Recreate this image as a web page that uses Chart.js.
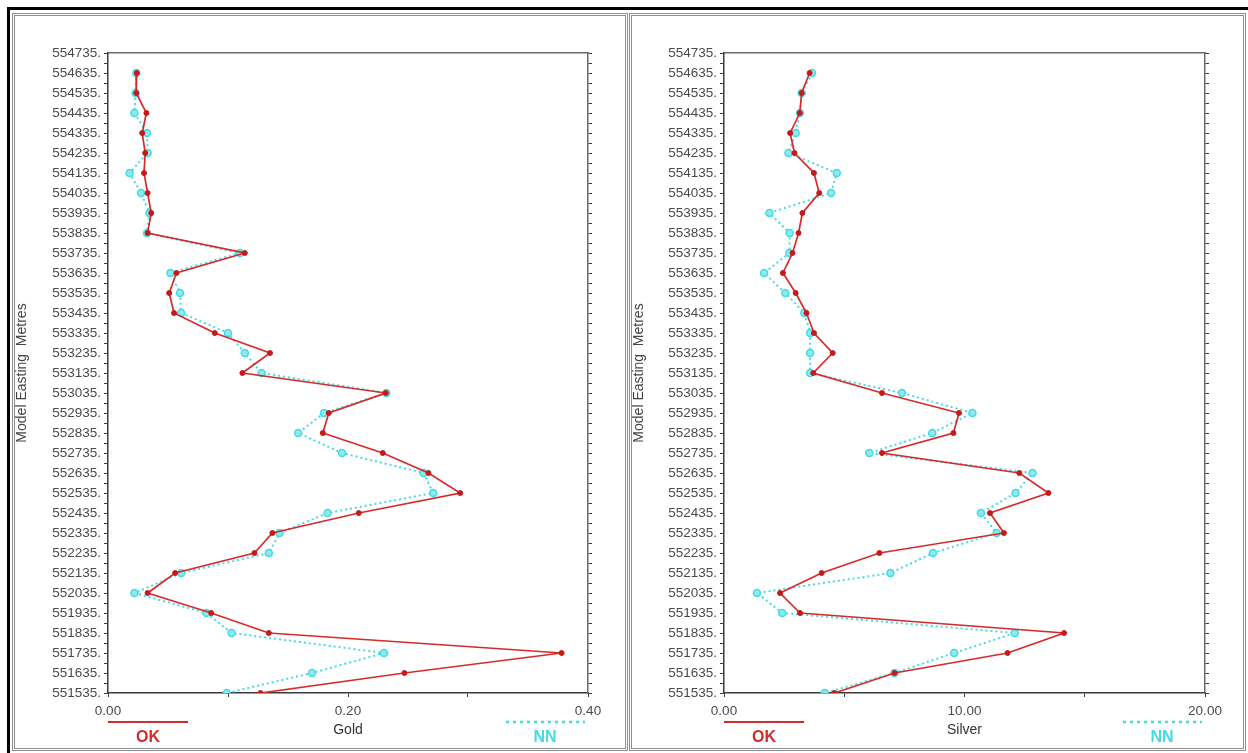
<!DOCTYPE html>
<html>
<head>
<meta charset="utf-8">
<script src="https://cdn.jsdelivr.net/npm/chart.js@4.4.1/dist/chart.umd.min.js"></script>
<style>
    body { margin: 0; width: 1248px; height: 753px; background: #fff; position: relative; overflow: hidden; font-family: "Liberation Sans", Arial, sans-serif; }
    .frame { position: absolute; left: 7px; top: 7px; right: 0; bottom: 0; border-top: 3px solid #000; border-left: 3px solid #000; }
    .panel { position: absolute; top: 13px; height: 732px; border: 3px double #8e8e8e; background: #fff; }
    #p1 { left: 12px; width: 610px; }
    #p2 { left: 629px; width: 611px; }
    .panel canvas { display: block; }
</style>
</head>
<body>
<div class="frame"></div>
<div class="panel" id="p1"><canvas id="gold" width="610" height="732"></canvas></div>
<div class="panel" id="p2"><canvas id="silver" width="611" height="732"></canvas></div>

<script>
// model easting of each block, top of the profile first
var eastings = [554635, 554535, 554435, 554335, 554235, 554135, 554035, 553935,
    553835, 553735, 553635, 553535, 553435, 553335, 553235, 553135,
    553035, 552935, 552835, 552735, 552635, 552535, 552435, 552335,
    552235, 552135, 552035, 551935, 551835, 551735, 551635, 551535];

var goldOK = [0.024, 0.0235, 0.032, 0.0285, 0.031, 0.030, 0.033, 0.036,
    0.033, 0.114, 0.057, 0.051, 0.055, 0.089, 0.135, 0.112,
    0.2315, 0.184, 0.179, 0.229, 0.267, 0.2935, 0.209, 0.137,
    0.122, 0.056, 0.033, 0.086, 0.134, 0.378, 0.247, 0.127];
var goldNN = [0.0236, 0.023, 0.022, 0.0325, 0.033, 0.018, 0.0275, 0.0345,
    0.0325, 0.110, 0.052, 0.060, 0.061, 0.100, 0.114, 0.128,
    0.232, 0.180, 0.1585, 0.195, 0.263, 0.271, 0.183, 0.143,
    0.134, 0.061, 0.022, 0.082, 0.103, 0.230, 0.170, 0.099];

var silverOK = [3.56, 3.23, 3.15, 2.75, 2.93, 3.74, 3.96, 3.26,
    3.10, 2.85, 2.45, 2.98, 3.43, 3.74, 4.52, 3.71,
    6.57, 9.77, 9.54, 6.57, 12.28, 13.49, 11.06, 11.64,
    6.46, 4.06, 2.33, 3.16, 14.14, 11.79, 7.09, 4.59];
var silverNN = [3.66, 3.23, 3.16, 2.98, 2.68, 4.69, 4.45, 1.89,
    2.73, 2.72, 1.67, 2.55, 3.34, 3.58, 3.58, 3.58,
    7.40, 10.33, 8.66, 6.04, 12.83, 12.12, 10.68, 11.34,
    8.69, 6.92, 1.37, 2.42, 12.09, 9.57, 7.09, 4.19];

var yMin = 551535, yMax = 554735;
var seriesNames = ["OK", "NN"];
var yTitle = "Model Easting  Metres";

var RED = "#d62b2b";
var CYAN = "#45dbe2";
var FONT = "'Liberation Sans', Arial, sans-serif";

function toPoints(vals) {
    return eastings.map(function (e, i) { return { x: vals[i], y: e }; });
}

// line + label key under the plot, like the original
var keyPlugin = {
    id: "key",
    afterDraw: function (chart) {
        var ctx = chart.ctx, a = chart.chartArea;
        var y = a.bottom + 29;
        ctx.save();
        ctx.lineWidth = 2;
        ctx.strokeStyle = RED;
        ctx.beginPath();
        ctx.moveTo(a.left, y);
        ctx.lineTo(a.left + 80, y);
        ctx.stroke();

        ctx.strokeStyle = CYAN;
        ctx.lineWidth = 2.5;
        ctx.setLineDash([3, 4]);
        ctx.beginPath();
        ctx.moveTo(a.right - 82, y);
        ctx.lineTo(a.right - 3, y);
        ctx.stroke();
        ctx.setLineDash([]);

        ctx.font = "bold 16px " + FONT;
        ctx.textAlign = "center";
        ctx.textBaseline = "middle";
        ctx.fillStyle = RED;
        ctx.fillText(seriesNames[0], a.left + 40, a.bottom + 45);
        ctx.fillStyle = CYAN;
        ctx.fillText(seriesNames[1], a.right - 43, a.bottom + 45);
        ctx.restore();
    }
};

function makeChart(id, okVals, nnVals, xMax, xStep, xTitle, leftW, rightW) {
    var tickFont = { size: 13.5, family: FONT };
    var edge = { display: true, color: "#3a3a3a", width: 1.5 };
    var edge2 = { display: true, color: "#6a6a6a", width: 1.5 };
    var ticksOnly = { drawOnChartArea: false, drawTicks: true, tickLength: 4, color: "#3a3a3a", lineWidth: 1 };

    return new Chart(document.getElementById(id), {
        type: "scatter",
        data: {
            datasets: [{
                label: seriesNames[0],
                data: toPoints(okVals),
                showLine: true,
                borderColor: RED,
                borderWidth: 1.7,
                pointRadius: 2.5,
                pointBackgroundColor: "#c41a1a",
                pointBorderColor: "#c41a1a",
                pointBorderWidth: 1
            }, {
                label: seriesNames[1],
                data: toPoints(nnVals),
                showLine: true,
                borderColor: CYAN,
                borderWidth: 2,
                borderDash: [2, 3],
                pointRadius: 3.5,
                pointBackgroundColor: "#8feaee",
                pointBorderColor: CYAN,
                pointBorderWidth: 1.5
            }]
        },
        options: {
            responsive: false,
            animation: false,
            layout: { padding: 0 },
            plugins: { legend: { display: false }, tooltip: { enabled: false } },
            scales: {
                x: {
                    type: "linear",
                    position: "bottom",
                    min: 0,
                    max: xMax,
                    grid: ticksOnly,
                    border: edge,
                    afterFit: function (s) { s.height = 55; },
                    ticks: {
                        stepSize: xStep,
                        autoSkip: false,
                        maxRotation: 0,
                        padding: 6,
                        color: "#4a4a4a",
                        font: tickFont,
                        callback: function (v) {
                            return Math.round(v / xStep) % 2 === 0 ? v.toFixed(2) : "";
                        }
                    },
                    title: {
                        display: true,
                        text: xTitle,
                        color: "#333",
                        font: { size: 14, family: FONT },
                        padding: { top: 0, bottom: 9 }
                    }
                },
                x2: {
                    type: "linear",
                    position: "top",
                    min: 0,
                    max: xMax,
                    grid: { display: false, drawTicks: false },
                    border: edge2,
                    ticks: { display: false },
                    afterFit: function (s) { s.height = 37; }
                },
                y: {
                    type: "linear",
                    position: "left",
                    min: yMin,
                    max: yMax,
                    grid: ticksOnly,
                    border: edge,
                    afterFit: function (s) { s.width = leftW; },
                    ticks: {
                        stepSize: 50,
                        autoSkip: false,
                        padding: 3,
                        color: "#4a4a4a",
                        font: tickFont,
                        callback: function (v) {
                            return (v - yMin) % 100 === 0 ? v + "." : "";
                        }
                    },
                    title: {
                        display: true,
                        text: yTitle,
                        color: "#444",
                        font: { size: 14, family: FONT, lineHeight: 1 },
                        padding: { top: 0, bottom: 0 }
                    }
                },
                y2: {
                    type: "linear",
                    position: "right",
                    min: yMin,
                    max: yMax,
                    grid: ticksOnly,
                    border: edge2,
                    afterFit: function (s) { s.width = rightW; },
                    ticks: {
                        stepSize: 50,
                        autoSkip: false,
                        padding: 0,
                        font: { size: 1 },
                        callback: function () { return ""; }
                    }
                }
            }
        },
        plugins: [keyPlugin]
    });
}

makeChart("gold", goldOK, goldNN, 0.4, 0.1, "Gold", 93, 37);
makeChart("silver", silverOK, silverNN, 20, 5, "Silver", 92, 38);
</script>
</body>
</html>
